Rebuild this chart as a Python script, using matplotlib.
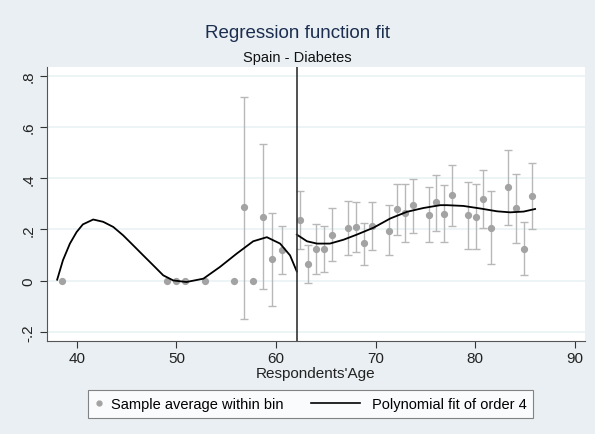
import matplotlib
matplotlib.use("Agg")
import matplotlib.pyplot as plt
from matplotlib.lines import Line2D
from matplotlib.legend_handler import HandlerBase

plt.rcParams['font.family'] = ['Liberation Sans', 'DejaVu Sans']

# bin averages (age, mean), with 95% CI where shown
ages = [38.5, 49.0, 50.0, 50.9, 52.9, 55.8, 56.75, 57.7, 58.7, 59.6, 60.6,
        62.4, 63.2, 64.0, 64.8, 65.6, 67.2, 68.0, 68.8, 69.6, 71.3, 72.1,
        72.9, 73.7, 75.3, 76.1, 76.9, 77.7, 79.3, 80.1, 80.8, 81.6, 83.3,
        84.1, 84.9, 85.7]
means = [0, 0, 0, 0, 0, 0, 0.286, 0, 0.249, 0.085, 0.121,
         0.236, 0.067, 0.125, 0.125, 0.180, 0.205, 0.209, 0.146, 0.214, 0.196, 0.279,
         0.263, 0.295, 0.257, 0.308, 0.262, 0.334, 0.257, 0.250, 0.320, 0.206, 0.364,
         0.285, 0.125, 0.329]
ci_hi = [None, None, None, None, None, None, 0.719, None, 0.533, 0.266, 0.214,
         0.351, 0.138, 0.222, 0.214, 0.285, 0.312, 0.308, 0.227, 0.308, 0.295, 0.378,
         0.378, 0.399, 0.364, 0.412, 0.373, 0.451, 0.386, 0.378, 0.434, 0.351, 0.510,
         0.418, 0.230, 0.458]
ci_lo = [None, None, None, None, None, None, -0.149, None, -0.034, -0.097, 0.027,
         0.125, -0.008, 0.027, 0.034, 0.076, 0.099, 0.112, 0.063, 0.121, 0.099, 0.177,
         0.151, 0.187, 0.151, 0.196, 0.151, 0.214, 0.125, 0.125, 0.206, 0.064, 0.216,
         0.148, 0.021, 0.201]

# polynomial fit curves
left_age = [38.02, 38.6, 39.3, 39.97, 40.6, 41.64, 42.64, 43.65, 44.65, 45.66,
            46.66, 47.67, 48.67, 49.68, 51.0, 52.7, 54.37, 56.05, 57.7, 59.07,
            60.4, 61.4, 62.08]
left_fit = [0.004, 0.080, 0.145, 0.190, 0.220, 0.239, 0.230, 0.210, 0.177, 0.138,
            0.099, 0.060, 0.021, 0.001, -0.005, 0.008, 0.054, 0.106, 0.154, 0.170,
            0.145, 0.099, 0.036]
right_age = [62.08, 63.1, 64.1, 65.4, 66.76, 68.1, 69.78, 71.46, 73.13, 74.8,
             76.48, 77.15, 78.8, 80.5, 82.18, 83.5, 84.86, 86.0]
right_fit = [0.180, 0.154, 0.145, 0.145, 0.160, 0.180, 0.207, 0.243, 0.269, 0.284,
             0.295, 0.295, 0.292, 0.282, 0.271, 0.267, 0.270, 0.280]

cutoff = 62.1
bg = '#e9eff2'
pt_color = '#a3a3a3'


class MarkerRight(HandlerBase):
    def create_artists(self, legend, orig_handle, xdescent, ydescent, width,
                       height, fontsize, trans):
        m = Line2D([width - xdescent], [height / 2 - ydescent], marker='o',
                   ls='none', color=pt_color, markersize=3.5)
        m.set_transform(trans)
        return [m]


class LongLine(HandlerBase):
    def create_artists(self, legend, orig_handle, xdescent, ydescent, width,
                       height, fontsize, trans):
        x1 = width - xdescent
        y = height / 2 - ydescent
        ln = Line2D([x1 - 3.4 * fontsize, x1], [y, y], color='black', lw=1.2)
        ln.set_transform(trans)
        return [ln]


fig = plt.figure(figsize=(5.95, 4.35), dpi=100, facecolor=bg)
ax = fig.add_axes([0.079, 0.214, 0.904, 0.630])
ax.set_facecolor('white')

# error bars
for a, lo, hi in zip(ages, ci_lo, ci_hi):
    if lo is None:
        continue
    ax.errorbar([a], [(lo + hi) / 2], yerr=[[(hi - lo) / 2]], fmt='none',
                ecolor='#b8b8b8', elinewidth=1.0, capsize=3, capthick=1.0, zorder=2)

pts, = ax.plot(ages, means, 'o', color=pt_color, markersize=4.2, zorder=3,
               label='Sample average within bin')
fit, = ax.plot(left_age, left_fit, color='black', lw=1.3, zorder=4,
               label='Polynomial fit of order 4')
ax.plot(right_age, right_fit, color='black', lw=1.3, zorder=4)
ax.axvline(cutoff, color='#333333', lw=1.2, zorder=5)

ax.set_xlim(37.0, 91.0)
ax.set_ylim(-0.235, 0.835)
ax.set_xticks([40, 50, 60, 70, 80, 90])
yt = [-0.2, 0, 0.2, 0.4, 0.6, 0.8]
ax.set_yticks(yt)
ax.set_yticklabels(['-.2', '0', '.2', '.4', '.6', '.8'], rotation=90, va='center')
ax.grid(axis='y', color='#eaf2f3', lw=1.2)
ax.set_axisbelow(True)
for s in ['top', 'right']:
    ax.spines[s].set_visible(False)
for s in ['left', 'bottom']:
    ax.spines[s].set_color('#555555')
ax.tick_params(colors='#333333', labelcolor='#222222', labelsize=11, length=5, width=0.8)
ax.tick_params(axis='x', pad=2)
ax.set_xlabel("Respondents'Age", fontsize=11, color='#222222', labelpad=1)

fig.text(0.5, 0.924, 'Regression function fit', ha='center', va='center',
         fontsize=13.5, color='#1c2e4f')
fig.text(0.5, 0.867, 'Spain - Diabetes', ha='center', va='center',
         fontsize=10.5, color='#111111')

leg = fig.legend(handles=[pts, fit], loc='center', bbox_to_anchor=(0.522, 0.069),
                 ncol=2, fontsize=10.5, frameon=True, fancybox=False, edgecolor='#666666',
                 handlelength=0.3, handletextpad=0.8, columnspacing=5.0,
                 borderpad=0.45, handler_map={pts: MarkerRight(), fit: LongLine()})
leg.get_frame().set_linewidth(0.8)

fig.savefig('out.png', dpi=100, facecolor=bg)
